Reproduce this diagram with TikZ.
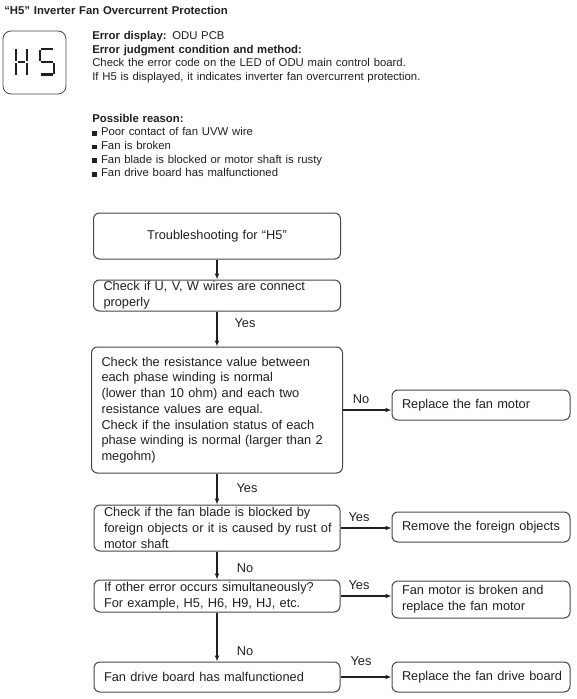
\documentclass[tikz,border=0pt]{standalone}
\usepackage{fontspec}
\setmainfont{Liberation Sans}
\usetikzlibrary{arrows.meta,positioning}
\definecolor{xink}{RGB}{35,31,32}
\definecolor{xframe}{RGB}{70,70,70}
\newcommand{\sqbul}{\rule{3.6pt}{3.6pt}\hspace{3pt}}

\begin{document}
\begin{tikzpicture}[x=0.75pt, y=-0.75pt,
  txt/.style={anchor=base west, inner sep=0pt, align=left, text width=330pt,
              text=xink, font=\fontsize{8.5}{10.1}\selectfont},
  box/.style 2 args={draw=xframe, rounded corners=4.5pt, line width=0.75pt,
              text=xink, font=\fontsize{9.6}{11.8}\selectfont, align=left,
              inner xsep=7.5pt, inner ysep=0pt, text width=#1, minimum height=#2,
              execute at begin node={\rightskip=0pt plus 2em minus 40pt}},
  lbl/.style={inner sep=0pt, text=xink, font=\fontsize{9.6}{11.8}\selectfont},
  seg/.style={line width=2pt, color=xink},
  arr/.style={-{Latex[length=4.5pt,width=3.6pt]}, line width=1pt, color=xink}
]
  \useasboundingbox (0,0) rectangle (576,699);

  % header
  \node[txt, font=\fontsize{8.5}{10.1}\selectfont\bfseries] (title) at (4,15)
    {“H5” Inverter Fan Overcurrent Protection};
  \node[draw=xframe, line width=0.6pt, rounded corners=6pt,
        minimum size=47.25pt, inner sep=0pt] (icon) at (34.5,62.5) {};
  \foreach \xa/\ya/\xb/\yb in {16/49/16/61, 16/63/16/75, 27/49/27/61, 27/63/27/75,
                               18/62/25/62, 41/49/53/49, 40/50/40/61, 41/62/53/62,
                               54/63/54/74, 41/74.5/53/74.5}
    \draw[seg] (\xa,\ya) -- (\xb,\yb);
  \node[txt] (info) at (92,40) {
    \textbf{Error display:} ODU PCB\\
    \textbf{Error judgment condition and method:}\\
    Check the error code on the LED of ODU main control board.\\
    If H5 is displayed, it indicates inverter fan overcurrent protection.
  };
  \node[txt, font=\fontsize{8.5}{10.3}\selectfont] (reason) at (92,122) {
    \textbf{Possible reason:}\\
    \sqbul Poor contact of fan UVW wire\\
    \sqbul Fan is broken\\
    \sqbul Fan blade is blocked or motor shaft is rusty\\
    \sqbul Fan drive board has malfunctioned
  };

  % flow
  \node[box={170.25pt}{34.5pt}, align=center] (start) at (217,236) {Troubleshooting for “H5”};
  \node[box={170.25pt}{23.25pt}] (wires)  at (217,295.5) {Check if U, V, W wires are connect\\properly};
  \node[box={173.25pt}{94.5pt}]  (resist) at (217,410) {
    Check the resistance value between\\
    each phase winding is normal\\
    (lower than 10 ohm) and each two\\
    resistance values are equal.\\
    Check if the insulation status of each\\
    phase winding is normal (larger than 2\\
    megohm)};
  \node[box={169.5pt}{34.5pt}]   (blade)  at (217,528) {Check if the fan blade is blocked by\\foreign objects or it is caused by rust of\\motor shaft};
  \node[box={169.5pt}{24pt}]     (other)  at (217,596) {If other error occurs simultaneously?\\For example, H5, H6, H9, HJ, etc.};
  \node[box={169.5pt}{22.5pt}]   (drive)  at (217,677) {Fan drive board has malfunctioned};

  \node[box={118.5pt}{22.5pt}]   (motor)  at (481,405) {Replace the fan motor};
  \node[box={118.5pt}{22.5pt}]   (rem)    at (481,527) {Remove the foreign objects};
  \node[box={118.5pt}{27.75pt}]  (brk)    at (481,599.5) {Fan motor is broken and\\replace the fan motor};
  \node[box={118.5pt}{22.5pt}]   (board)  at (481,677) {Replace the fan drive board};

  \foreach \a/\b in {start/wires, wires/resist, resist/blade, blade/other, other/drive}
    \draw[arr] (\a) -- (\b);
  \foreach \a/\b in {resist/motor, blade/rem, other/brk, drive/board}
    \draw[arr] (\a) -- (\a -| \b.west);

  \node[lbl] (y1) at (245,323) {Yes};
  \node[lbl] (n1) at (361,399) {No};
  \node[lbl] (y2) at (247,488) {Yes};
  \node[lbl] (y3) at (359,517) {Yes};
  \node[lbl] (n2) at (245,568) {No};
  \node[lbl] (y4) at (359,585) {Yes};
  \node[lbl] (n3) at (245,651) {No};
  \node[lbl] (y5) at (361,661) {Yes};
\end{tikzpicture}
\end{document}
